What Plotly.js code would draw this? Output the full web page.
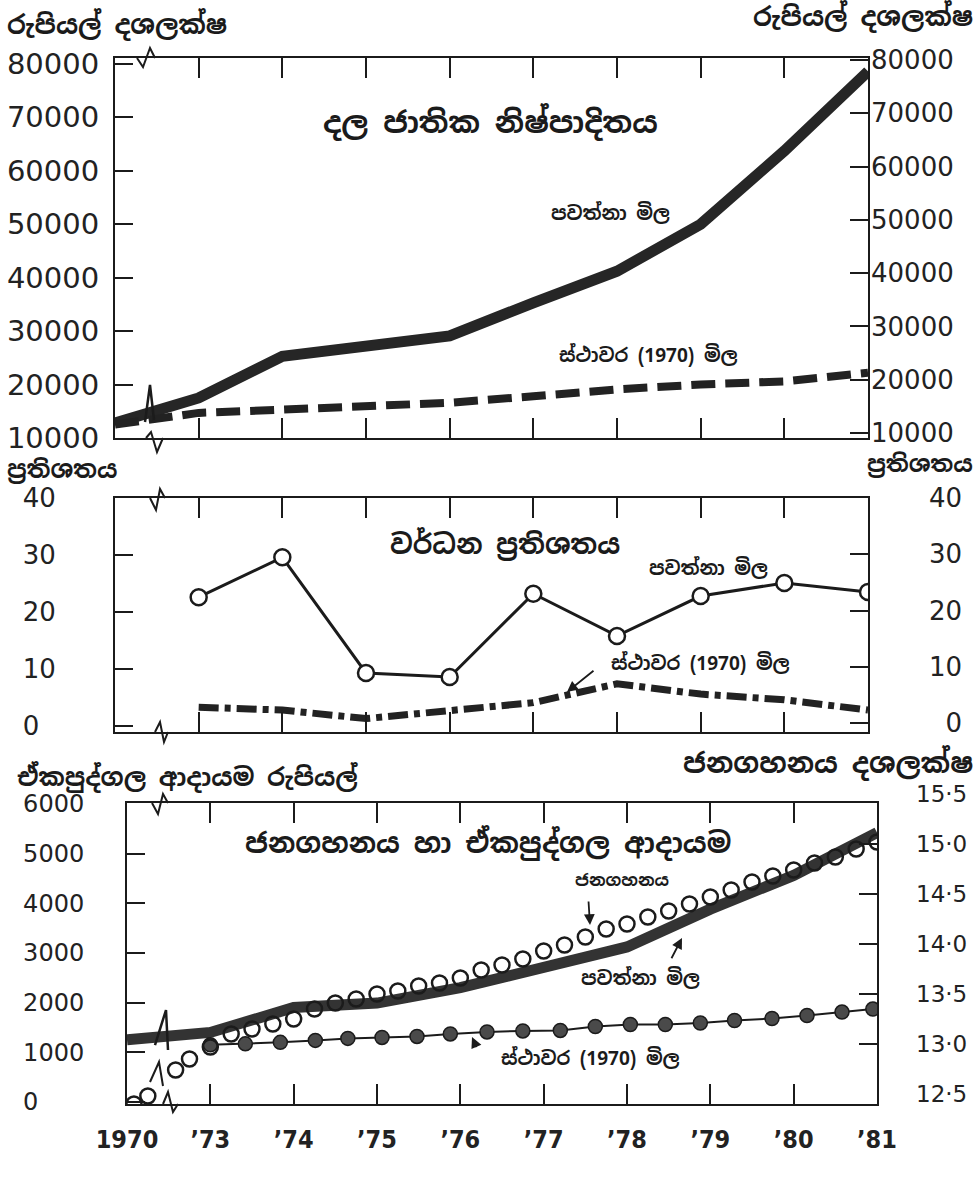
<!DOCTYPE html>
<html><head><meta charset="utf-8">
<script src="https://cdn.plot.ly/plotly-3.0.1.min.js"></script>
<style>html,body{margin:0;padding:0;background:#fff}</style>
</head><body><div id="chart" style="width:980px;height:1188px"></div>
<script>
// ---------- data ----------
const gdpYears = [1970, 1973, 1974, 1975, 1976, 1977, 1978, 1979, 1980, 1981];
const gdpCurrent = [12800, 17500, 25300, 27200, 29100, 35300, 41200, 50000, 63700, 78600];
const gdpConstant = [12500, 14700, 15300, 15900, 16600, 17800, 19100, 20000, 20600, 22200];

const growthYears = [1973, 1974, 1975, 1976, 1977, 1978, 1979, 1980, 1981];
const growthCurrent = [22.6, 29.6, 9.3, 8.6, 23.2, 15.8, 22.8, 25.1, 23.5];
const growthConstant = [3.3, 2.8, 1.3, 2.6, 4.1, 7.4, 5.6, 4.6, 2.8];

const perCapitaYears = [1970, 1973, 1974, 1975, 1976, 1977, 1978, 1979, 1980, 1981];
const perCapitaCurrent = [1250, 1400, 1900, 1990, 2300, 2700, 3120, 3880, 4560, 5420];

const perCapitaConstYears = [1973.0, 1973.42, 1973.84, 1974.26, 1974.65, 1975.06, 1975.48, 1975.88, 1976.32, 1976.75,
  1977.2, 1977.62, 1978.04, 1978.46, 1978.88, 1979.29, 1979.74, 1980.16, 1980.58, 1980.95];
const perCapitaConst = [1150, 1170, 1200, 1240, 1280, 1300, 1320, 1370, 1410, 1430,
  1440, 1520, 1560, 1560, 1590, 1640, 1680, 1740, 1810, 1870];

const popYears = [1970.25, 1970.75, 1971.75, 1972.25,
  1973.0, 1973.25, 1973.5, 1973.75, 1974.0, 1974.25, 1974.5, 1974.75,
  1975.0, 1975.25, 1975.5, 1975.75, 1976.0, 1976.25, 1976.5, 1976.75,
  1977.0, 1977.25, 1977.5, 1977.75, 1978.0, 1978.25, 1978.5, 1978.75,
  1979.0, 1979.25, 1979.5, 1979.75, 1980.0, 1980.25, 1980.5, 1980.75, 1981.0];
const popValues = [12.40, 12.48, 12.74, 12.85,
  12.97, 13.10, 13.15, 13.20, 13.25, 13.35, 13.41, 13.45,
  13.50, 13.53, 13.58, 13.61, 13.66, 13.74, 13.79, 13.85,
  13.93, 13.99, 14.07, 14.15, 14.20, 14.27, 14.33, 14.40,
  14.47, 14.54, 14.62, 14.68, 14.74, 14.81, 14.87, 14.95, 15.02];

const xTickYears = [1970, 1973, 1974, 1975, 1976, 1977, 1978, 1979, 1980, 1981];
const xTickText = ['1970', '\u201973', '\u201974', '\u201975', '\u201976', '\u201977', '\u201978', '\u201979', '\u201980', '\u201981'];
const gdpTicks = [10000, 20000, 30000, 40000, 50000, 60000, 70000, 80000];
const pctTicks = [0, 10, 20, 30, 40];
const pcTicks = [0, 1000, 2000, 3000, 4000, 5000, 6000];
const popTicks = [12.5, 13.0, 13.5, 14.0, 14.5, 15.0, 15.5];
const popTickText = ['12\u00b75', '13\u00b70', '13\u00b75', '14\u00b70', '14\u00b75', '15\u00b70', '15\u00b75'];

// axis break: 1970-1973 compressed into one unit
function pos(year) { return year < 1973 ? 2 + (year - 1970) / 3 : year - 1970; }

const INK = '#1b1b1b';
const SIN = 'Noto Sans Sinhala, Noto Sans, DejaVu Sans, sans-serif';
const NUM = 'DejaVu Sans, sans-serif';
const W = 980, H = 1188;
const PX = x => x / W, PY = y => 1 - y / H;

const hidden = {mode: 'lines', line: {width: 0}, opacity: 0, hoverinfo: 'skip'};
const traces = [
  {x: gdpYears.map(pos), y: gdpCurrent, xaxis: 'x', yaxis: 'y', mode: 'lines',
   line: {color: '#262626', width: 11}},
  {x: gdpYears.map(pos), y: gdpConstant, xaxis: 'x', yaxis: 'y', mode: 'lines',
   line: {color: '#222', width: 8, dash: '24px,10px'}},
  Object.assign({x: gdpYears.map(pos), y: gdpCurrent, xaxis: 'x', yaxis: 'y2'}, hidden),
  {x: growthYears.map(pos), y: growthConstant, xaxis: 'x2', yaxis: 'y3', mode: 'lines',
   line: {color: '#222', width: 7, dash: '20px,6px,6px,6px'}},
  {x: growthYears.map(pos), y: growthCurrent, xaxis: 'x2', yaxis: 'y3', mode: 'lines+markers',
   line: {color: INK, width: 3},
   marker: {symbol: 'circle', size: 16, color: '#fff', line: {color: INK, width: 2.5}}},
  Object.assign({x: growthYears.map(pos), y: growthCurrent, xaxis: 'x2', yaxis: 'y4'}, hidden),
  {x: perCapitaYears.map(pos), y: perCapitaCurrent, xaxis: 'x3', yaxis: 'y5', mode: 'lines',
   line: {color: '#333', width: 11}},
  {x: perCapitaConstYears.map(pos), y: perCapitaConst, xaxis: 'x3', yaxis: 'y5', mode: 'lines+markers',
   line: {color: INK, width: 2},
   marker: {symbol: 'circle', size: 14, color: '#4a4a4a', line: {color: '#1b1b1b', width: 1.5}}},
  {x: popYears.map(pos), y: popValues, xaxis: 'x3', yaxis: 'y6', mode: 'markers',
   marker: {symbol: 'circle-open', size: 15, color: INK, line: {color: INK, width: 2.5}}},
  Object.assign({x: popYears.map(pos), y: popValues, xaxis: 'x3', yaxis: 'y7'}, hidden)
];

const xCommon = {range: [2, 11], tickvals: xTickYears.map(pos), ticks: 'inside', ticklen: 20, tickwidth: 2,
  tickcolor: INK, showline: true, linewidth: 2, linecolor: INK, mirror: 'ticks', showgrid: false, zeroline: false,
  fixedrange: true};
const yLeft = {ticks: 'inside', ticklen: 18, tickwidth: 2, tickcolor: INK, showline: true, linewidth: 2,
  linecolor: INK, mirror: true, showgrid: false, zeroline: false, fixedrange: true};
const yRight = {ticks: 'inside', ticklen: 18, tickwidth: 2, tickcolor: INK, showline: false, side: 'right',
  showgrid: false, zeroline: false, fixedrange: true};

const topDom = [PY(438), PY(58)];
const midDom = [PY(732), PY(498)];
const botDom = [PY(1104), PY(803)];

const layout = {
  width: W, height: H, margin: {l: 0, r: 0, t: 0, b: 0},
  paper_bgcolor: '#fff', plot_bgcolor: 'rgba(0,0,0,0)', showlegend: false, hovermode: false,
  font: {family: NUM, color: INK},
  xaxis: Object.assign({}, xCommon, {domain: [PX(115), PX(868)], anchor: 'y', showticklabels: false}),
  yaxis: Object.assign({}, yLeft, {domain: topDom, anchor: 'x', range: [10000, 81100], tickvals: gdpTicks,
    ticktext: gdpTicks.map(String), ticklabelstandoff: 8, tickfont: {family: NUM, size: 29, color: '#222'}}),
  yaxis2: Object.assign({}, yRight, {overlaying: 'y', anchor: 'x', range: [9060, 80375], tickvals: gdpTicks,
    ticktext: gdpTicks.map(String), ticklabelstandoff: 2, tickfont: {family: NUM, size: 26, color: '#222'}}),
  xaxis2: Object.assign({}, xCommon, {domain: [PX(115), PX(868)], anchor: 'y3', showticklabels: false}),
  yaxis3: Object.assign({}, yLeft, {domain: midDom, anchor: 'x2', range: [-1.05, 40], tickvals: pctTicks,
    ticktext: ['0\u2007', '10', '20', '30', '40'], ticklabelstandoff: 52,
    tickfont: {family: NUM, size: 26, color: '#222'}}),
  yaxis4: Object.assign({}, yRight, {overlaying: 'y3', anchor: 'x2', range: [-1.6, 40], tickvals: pctTicks,
    ticktext: ['\u20070', '10', '20', '30', '40'], ticklabelstandoff: 60,
    tickfont: {family: NUM, size: 26, color: '#222'}}),
  xaxis3: Object.assign({}, xCommon, {domain: [PX(127), PX(877)], anchor: 'y5', showticklabels: true,
    ticktext: xTickText, ticklabelstandoff: 12,
    tickfont: {family: 'DejaVu Sans Condensed, DejaVu Sans', size: 25, color: '#222', weight: 'bold'}}),
  yaxis5: Object.assign({}, yLeft, {domain: botDom, anchor: 'x3', range: [-40, 6016], tickvals: pcTicks,
    ticktext: ['0\u2007\u2007\u2007', '1000', '2000', '3000', '4000', '5000', '6000'], ticklabelstandoff: 36,
    tickfont: {family: NUM, size: 24, color: '#222'}}),
  yaxis6: {domain: [PY(1104), PY(794)], anchor: 'x3', side: 'right', range: [12.4, 15.5], tickvals: popTicks,
    ticktext: popTickText, ticks: '', showline: false, showgrid: false, zeroline: false, fixedrange: true,
    ticklabelstandoff: 38, tickfont: {family: NUM, size: 23, color: '#222'}},
  yaxis7: Object.assign({}, yRight, {overlaying: 'y5', anchor: 'x3', range: [12.4, 15.41],
    tickvals: [13.0, 13.5, 14.0, 14.5, 15.0], showticklabels: false}),
  annotations: [],
  shapes: []
};

function ann(text, x, y, size, xanchor, extra) {
  layout.annotations.push(Object.assign({text: text, xref: 'paper', yref: 'paper', x: PX(x), y: PY(y),
    xanchor: xanchor || 'center', yanchor: 'middle', showarrow: false,
    font: {family: SIN, size: size, color: INK, weight: 'bold'}}, extra || {}));
}
function arrow(tx, ty, hx, hy) {
  layout.annotations.push({text: ' ', xref: 'paper', yref: 'paper', x: PX(hx), y: PY(hy),
    ax: tx - hx, ay: ty - hy, showarrow: true, arrowhead: 2, arrowsize: 1.2, arrowwidth: 1.8, arrowcolor: INK});
}
// axis captions
ann('රුපියල් දශලක්ෂ', 5, 25, 26, 'left');
ann('රුපියල් දශලක්ෂ', 975, 17, 26, 'right');
ann('ප්‍රතිශතය', 5, 470, 24, 'left');
ann('ප්‍රතිශතය', 975, 464, 23, 'right');
ann('ඒකපුද්ගල ආදායම රුපියල්', 15, 777, 25, 'left');
ann('ජනගහනය දශලක්ෂ', 975, 763, 28, 'right');
// panel titles and labels
ann('දල ජාතික නිෂ්පාදිතය', 490, 122, 30);
ann('පවත්නා මිල', 610, 213, 19);
ann('ස්ථාවර (1970) මිල', 648, 355, 19);
ann('වර්ධන ප්‍රතිශතය', 505, 545, 27);
ann('පවත්නා මිල', 708, 568, 19);
ann('ස්ථාවර (1970) මිල', 700, 663, 19);
arrow(597, 668, 567, 692);
ann('ජනගහනය හා ඒකපුද්ගල ආදායම', 488, 843, 28);
ann('ජනගහනය', 622, 880, 17);
arrow(588, 893, 590, 925);
ann('පවත්නා මිල', 640, 978, 19);
arrow(668, 965, 682, 938);
ann('ස්ථාවර (1970) මිල', 590, 1058, 19);
arrow(480, 1055, 472, 1037);

// axis-break zigzags (decoration)
function zig(pts, w) {
  const p = pts.map((q, i) => (i ? 'L ' : 'M ') + PX(q[0]).toFixed(5) + ' ' + PY(q[1]).toFixed(5)).join(' ');
  layout.shapes.push({type: 'path', xref: 'paper', yref: 'paper', path: p, line: {color: INK, width: w || 2}});
}
zig([[137, 58], [143, 67], [150, 48], [155, 58]]);
zig([[146, 438], [151, 432], [157, 452], [163, 438]]);
zig([[145, 422], [150, 385], [154, 420]], 2.5);
zig([[150, 498], [156, 510], [160, 489], [165, 498]]);
zig([[155, 732], [160, 722], [164, 742], [168, 732]]);
zig([[152, 803], [158, 814], [163, 794], [168, 803]]);
zig([[163, 1104], [168, 1092], [173, 1112], [178, 1104]]);
zig([[155, 1045], [166, 1010], [168, 1050]], 2.5);
zig([[150, 1082], [159, 1062], [163, 1086]], 2);

Plotly.newPlot('chart', traces, layout, {staticPlot: true, displayModeBar: false});
</script>
</body></html>
